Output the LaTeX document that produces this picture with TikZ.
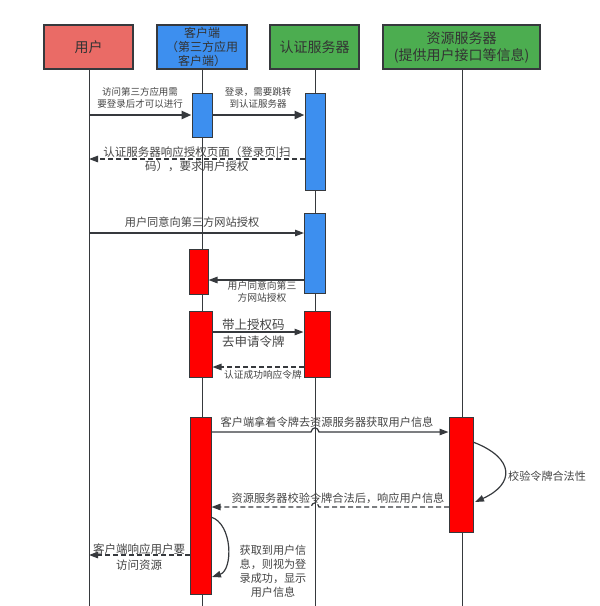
\documentclass[tikz,border=0pt]{standalone}
\usepackage{fontspec}
\setmainfont{Noto Sans CJK SC}
\usetikzlibrary{arrows.meta}

\definecolor{hdrred}{HTML}{EA6B66}
\definecolor{hdrblue}{HTML}{3D8FEF}
\definecolor{hdrgreen}{HTML}{4CAD50}
\definecolor{actred}{HTML}{FF0000}
\definecolor{edge}{HTML}{36393D}
\definecolor{txt}{HTML}{333333}
\definecolor{lbl}{HTML}{444444}

\newcommand{\fs}[2]{\fontsize{#1}{#2}\selectfont}
\tikzset{
  header/.style={draw=edge, line width=1.2pt, minimum height=44pt, text=txt,
    align=center, inner sep=1pt},
  act/.style={draw=edge, line width=1pt, inner sep=0pt},
  life/.style={draw=edge, line width=1pt},
  msg/.style={draw=edge, line width=1.2pt, -{Triangle[length=9pt,width=6.5pt]}},
  bigmsg/.style={draw=edge, line width=2.6pt, -{Triangle[length=10pt,width=8pt]}},
  reply/.style={msg, dash pattern=on 5pt off 3pt},
  note/.style={text=lbl, align=center, inner sep=0pt},
}

\begin{document}
\begin{tikzpicture}[x=1pt,y=-1pt]
\useasboundingbox (0,0) rectangle (600,606);

% participants
\node[header, fill=hdrred, minimum width=89pt, font=\fs{14}{16}] (u) at (88.5,47) {用户};
\node[header, fill=hdrblue, minimum width=90pt, font=\fs{12}{14}] (c) at (202,47)
  {客户端\\（第三方应用\\客户端）};
\node[header, fill=hdrgreen, minimum width=89pt, font=\fs{14}{16}] (a) at (314.5,47) {认证服务器};
\node[header, fill=hdrgreen, minimum width=157pt, font=\fs{14}{17}] (r) at (461.5,47)
  {资源服务器\\(提供用户接口等信息)};

% lifeline ends
\coordinate (uend) at (89,606);
\coordinate (cend) at (202,606);
\coordinate (aend) at (315,606);
\coordinate (rend) at (462,606);

\draw[life] (u.south -| uend) -- (uend);
\draw[life] (c.south -| cend) -- (cend);
\draw[life] (a.south -| aend) -- (aend);
\draw[life] (r.south -| rend) -- (rend);

% activation bars
\node[act, fill=hdrblue, minimum width=20pt, minimum height=44pt] (c1) at (202,115) {};
\node[act, fill=hdrblue, minimum width=20pt, minimum height=97pt] (a1) at (315,141.5) {};
\node[act, fill=hdrblue, minimum width=21pt, minimum height=80pt] (a2) at (315,253) {};
\node[act, fill=actred, minimum width=19pt, minimum height=45pt] (c2) at (198.5,271.5) {};
\node[act, fill=actred, minimum width=23pt, minimum height=66pt] (c3) at (200.5,344) {};
\node[act, fill=actred, minimum width=26pt, minimum height=66pt] (a3) at (317,344) {};
\node[act, fill=actred, minimum width=21pt, minimum height=177pt] (c4) at (200.5,505.5) {};
\node[act, fill=actred, minimum width=24pt, minimum height=115pt] (r1) at (461,474.5) {};

% 1: user -> client
\draw[bigmsg] (uend |- c1.west) -- (c1.west);
\node[note, font=\fs{9.5}{12}] (l1) at (140,98) {访问第三方应用需\\要登录后才可以进行};

% 2: client -> auth server
\draw[bigmsg] (c1.east) -- (a1.west |- c1.east);
\node[note, font=\fs{9.5}{12}] (l2) at (258,98) {登录，需要跳转\\到认证服务器};

% 3: auth page back to user
\coordinate (m3) at (305,159);
\draw[reply] (m3) -- (uend |- m3);
\node[note, font=\fs{11.5}{14}] (l3) at (197,159) {认证服务器响应授权页面（登录页|扫\\码），要求用户授权};

% 4: user grants
\coordinate (m4) at (89,233);
\draw[msg] (m4) -- (a2.west |- m4);
\node[note, font=\fs{11.2}{14}] (l4) at (192,222) {用户同意向第三方网站授权};

% 5: auth notifies client
\coordinate (m5) at (304,280);
\draw[msg] (m5) -- (c2.east |- m5);
\node[note, font=\fs{9.8}{12}] (l5) at (262,292) {用户同意向第三\\方网站授权};

% 6: client requests token
\coordinate (m6) at (212,332);
\draw[msg] (m6) -- (a3.west |- m6);
\node[note, align=left, anchor=west, font=\fs{12.5}{17}] (l6) at (222,333.5) {带上授权码\\去申请令牌};

% 7: token returned
\coordinate (m7) at (304,367);
\draw[reply] (m7) -- (c3.east |- m7);
\node[note, font=\fs{9.7}{12}] (l7) at (263,375) {认证成功响应令牌};

% 8: client -> resource server (hops over the auth lifeline)
\coordinate (m8) at (211,432);
\draw[msg] (m8) -- (311,432) .. controls (312,426.5) and (318,426.5) .. (319,432)
  -- (r1.west |- m8);
\node[note, font=\fs{11.2}{14}] (l8) at (327,422) {客户端拿着令牌去资源服务器获取用户信息};

% 9: token check on resource server
\coordinate (s9a) at (473,442);
\coordinate (s9b) at (475,502);
\draw[msg] (s9a) .. controls (515,458) and (515,484) .. (s9b);
\node[note, anchor=west, font=\fs{11.1}{14}] (l9) at (508,476) {校验令牌合法性};

% 10: resource server replies (hops over the auth lifeline)
\coordinate (m10) at (449,507);
\draw[reply] (m10) -- (319,507) .. controls (318,501.5) and (312,501.5) .. (311,507)
  -- (c4.east |- m10);
\node[note, font=\fs{11.2}{14}] (l10) at (338,498) {资源服务器校验令牌合法后，响应用户信息};

% 11: client processes user info
\coordinate (s11a) at (211,517);
\coordinate (s11b) at (212,577);
\draw[msg] (s11a) .. controls (233,524) and (233,570) .. (s11b);
\node[note, font=\fs{11.1}{14}] (l11) at (273,571) {获取到用户信\\息，则视为登\\录成功，显示\\用户信息};

% 12: client answers user
\coordinate (m12) at (190,555);
\draw[reply] (m12) -- (uend |- m12);
\node[note, font=\fs{11.5}{16}] (l12) at (139,557) {客户端响应用户要\\访问资源};

\end{tikzpicture}
\end{document}
